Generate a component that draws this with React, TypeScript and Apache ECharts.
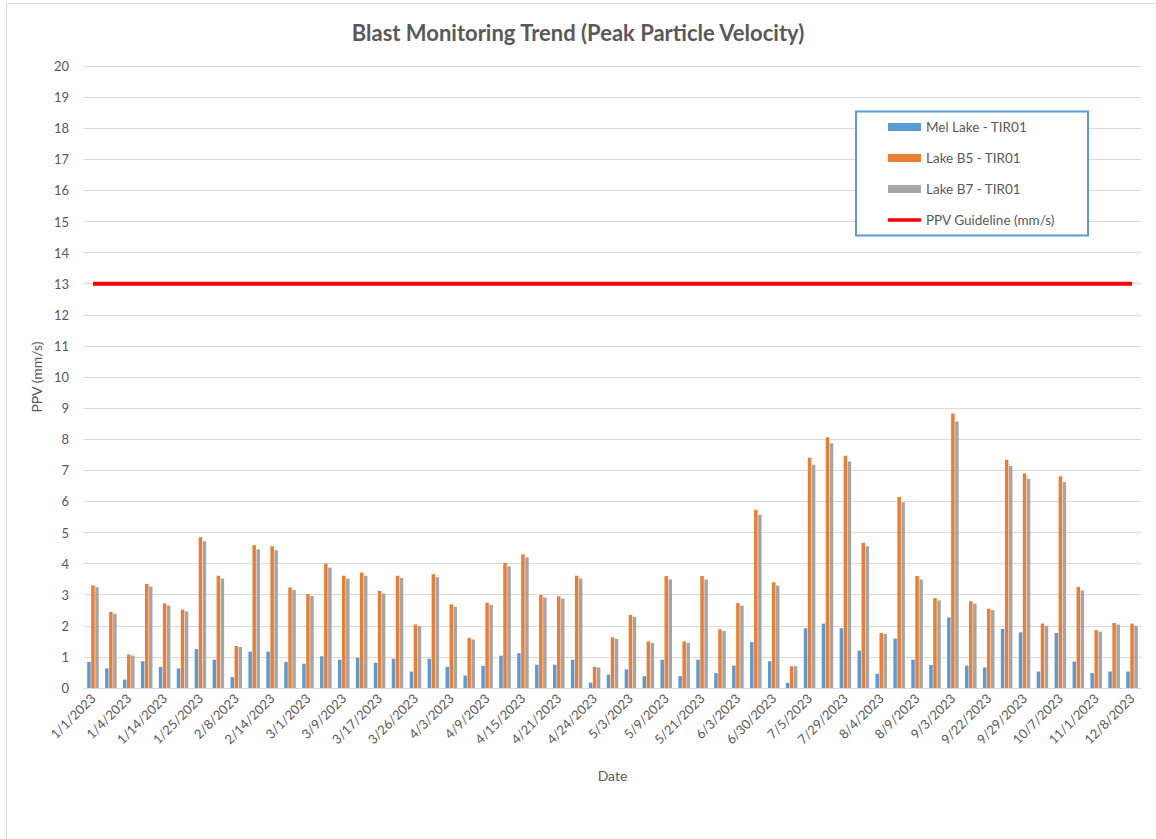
import React, { useEffect, useRef } from "react";
import * as echarts from "echarts";

const dates = [
  "1/1/2023", "1/3/2023", "1/4/2023", "1/9/2023", "1/14/2023", "1/19/2023", "1/25/2023", "2/1/2023",
  "2/8/2023", "2/11/2023", "2/14/2023", "2/22/2023", "3/1/2023", "3/5/2023", "3/9/2023", "3/13/2023",
  "3/17/2023", "3/21/2023", "3/26/2023", "3/30/2023", "4/3/2023", "4/6/2023", "4/9/2023", "4/12/2023",
  "4/15/2023", "4/18/2023", "4/21/2023", "4/22/2023", "4/24/2023", "4/28/2023", "5/3/2023", "5/6/2023",
  "5/9/2023", "5/15/2023", "5/21/2023", "5/27/2023", "6/3/2023", "6/15/2023", "6/30/2023", "7/2/2023",
  "7/5/2023", "7/17/2023", "7/29/2023", "8/1/2023", "8/4/2023", "8/6/2023", "8/9/2023", "8/20/2023",
  "9/3/2023", "9/12/2023", "9/22/2023", "9/25/2023", "9/29/2023", "10/3/2023", "10/7/2023", "10/20/2023",
  "11/1/2023", "11/20/2023", "12/8/2023",
];

const melLake = [
  0.84, 0.63, 0.27, 0.86, 0.68, 0.63, 1.25, 0.91, 0.35, 1.17, 1.17, 0.84, 0.78, 1.02, 0.91, 0.97,
  0.81, 0.94, 0.53, 0.94, 0.68, 0.4, 0.71, 1.04, 1.12, 0.75, 0.75, 0.91, 0.17, 0.43, 0.6, 0.38,
  0.91, 0.38, 0.91, 0.48, 0.72, 1.48, 0.86, 0.17, 1.92, 2.07, 1.92, 1.2, 0.46, 1.59, 0.91, 0.74,
  2.27, 0.72, 0.66, 1.9, 1.79, 0.53, 1.77, 0.85, 0.48, 0.53, 0.53,
];

const lakeB5 = [
  3.3, 2.45, 1.08, 3.35, 2.72, 2.52, 4.85, 3.61, 1.35, 4.59, 4.56, 3.23, 3.02, 4.0, 3.61, 3.71,
  3.12, 3.61, 2.04, 3.66, 2.69, 1.61, 2.74, 4.02, 4.3, 2.99, 2.95, 3.61, 0.68, 1.63, 2.35, 1.5,
  3.6, 1.5, 3.6, 1.89, 2.73, 5.73, 3.4, 0.7, 7.4, 8.06, 7.47, 4.67, 1.77, 6.14, 3.6, 2.89,
  8.83, 2.79, 2.55, 7.34, 6.9, 2.07, 6.81, 3.25, 1.86, 2.09, 2.07,
];

const lakeB7 = [
  3.24, 2.39, 1.04, 3.26, 2.65, 2.46, 4.72, 3.52, 1.32, 4.46, 4.43, 3.15, 2.96, 3.87, 3.52, 3.61,
  3.04, 3.54, 1.99, 3.56, 2.61, 1.56, 2.67, 3.91, 4.2, 2.91, 2.87, 3.52, 0.66, 1.58, 2.29, 1.45,
  3.49, 1.45, 3.49, 1.83, 2.65, 5.57, 3.29, 0.7, 7.18, 7.87, 7.28, 4.56, 1.74, 5.97, 3.49, 2.82,
  8.57, 2.71, 2.5, 7.14, 6.73, 2.0, 6.62, 3.14, 1.81, 2.04, 2.0,
];

const guidelineValue = 13;
const guideline = dates.map(() => guidelineValue);

const seriesNames = ["Mel Lake - TIR01", "Lake B5 - TIR01", "Lake B7 - TIR01", "PPV Guideline (mm/s)"];

const FONT = "Lato, 'Open Sans', sans-serif";
const TEXT = "#595959";

export default function App() {
  const ref = useRef<HTMLDivElement>(null);

  useEffect(() => {
    if (!ref.current) return;
    const chart = echarts.init(ref.current, null, { renderer: "svg" });
    const barCommon = {
      type: "bar" as const,
      barWidth: 3.5,
      barGap: "15%",
      barCategoryGap: "40%",
    };
    chart.setOption({
      animation: false,
      backgroundColor: "#ffffff",
      textStyle: { fontFamily: FONT },
      title: {
        text: "Blast Monitoring Trend (Peak Particle Velocity)",
        left: "center",
        top: 16,
        textStyle: { fontFamily: FONT, fontSize: 22, fontWeight: "bold", color: TEXT },
      },
      graphic: [
        {
          type: "rect",
          shape: { x: 6.5, y: 3.5, width: 1160, height: 840 },
          style: { fill: "none", stroke: "#d9d9d9", lineWidth: 1 },
          silent: true,
        },
        {
          type: "rect",
          shape: { x: 856, y: 111.5, width: 232, height: 124 },
          style: { fill: "#ffffff", stroke: "#5b9bd5", lineWidth: 2 },
          silent: true,
          z: 5,
        },
      ],
      legend: {
        orient: "vertical",
        left: 888,
        top: 119,
        padding: 0,
        itemWidth: 33,
        itemHeight: 8,
        itemGap: 15,
        z: 10,
        textStyle: { fontFamily: FONT, fontSize: 13.5, color: TEXT, lineHeight: 16 },
        data: [
          { name: seriesNames[0], icon: "rect" },
          { name: seriesNames[1], icon: "rect" },
          { name: seriesNames[2], icon: "rect" },
          { name: seriesNames[3], icon: "path://M0,0 L36,0 L36,4 L0,4 Z" },
        ],
      },
      grid: { left: 84, right: 15, top: 66, bottom: 151, containLabel: false },
      xAxis: {
        type: "category",
        data: dates,
        name: "Date",
        nameLocation: "middle",
        nameGap: 80,
        nameTextStyle: { fontFamily: FONT, fontSize: 14, color: TEXT },
        axisTick: { show: false },
        axisLine: { lineStyle: { color: "#d9d9d9", width: 1 } },
        axisLabel: {
          interval: 1,
          rotate: 45,
          fontFamily: FONT,
          fontSize: 13,
          color: TEXT,
          margin: 8,
        },
      },
      yAxis: {
        type: "value",
        min: 0,
        max: 20,
        interval: 1,
        name: "PPV (mm/s)",
        nameLocation: "middle",
        nameGap: 40,
        nameRotate: 90,
        nameTextStyle: { fontFamily: FONT, fontSize: 14, color: TEXT },
        axisLine: { show: false },
        axisTick: { show: false },
        axisLabel: { fontFamily: FONT, fontSize: 13, color: TEXT, margin: 15 },
        splitLine: { lineStyle: { color: "#d9d9d9", width: 1 } },
      },
      series: [
        { ...barCommon, name: seriesNames[0], data: melLake, itemStyle: { color: "#5b9bd5" } },
        { ...barCommon, name: seriesNames[1], data: lakeB5, itemStyle: { color: "#ed7d31" } },
        { ...barCommon, name: seriesNames[2], data: lakeB7, itemStyle: { color: "#a5a5a5" } },
        {
          type: "line",
          name: seriesNames[3],
          data: guideline,
          symbol: "none",
          showSymbol: false,
          lineStyle: { color: "#ff0000", width: 4 },
          itemStyle: { color: "#ff0000" },
          z: 3,
        },
      ],
    });
    return () => chart.dispose();
  }, []);

  return (
    <div
      ref={ref}
      style={{ position: "fixed", left: 0, top: 0, width: 1156, height: 839, background: "#fff" }}
    />
  );
}
